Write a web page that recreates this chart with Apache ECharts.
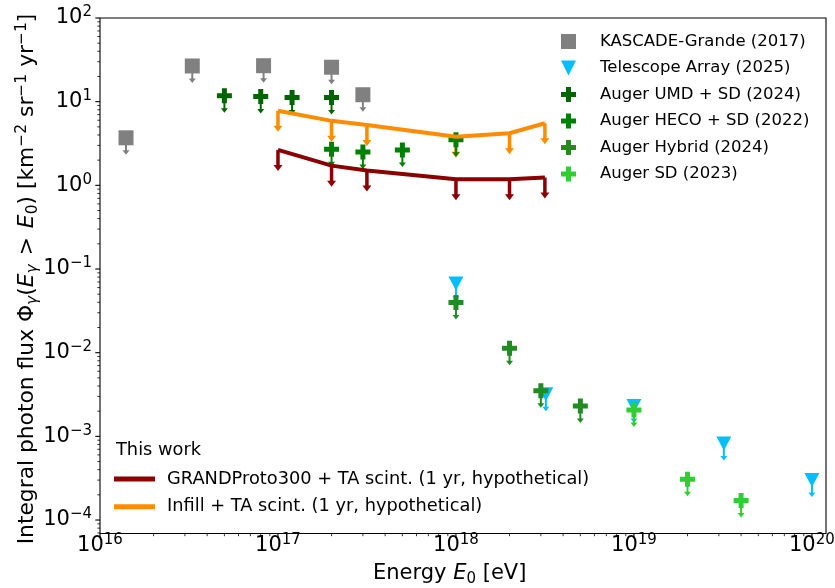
<!DOCTYPE html>
<html>
<head>
<meta charset="utf-8">
<script src="https://cdn.jsdelivr.net/npm/echarts@6/dist/echarts.min.js"></script>
<style>
  html, body { margin: 0; padding: 0; background: #fff; }
  #chart { width: 835px; height: 588px; }
</style>
</head>
<body>
<div id="chart"></div>
<script>
// ---- axis ranges and decade tick labels ----
const X_MIN = 1e16, X_MAX = 1.2e20;
const Y_MIN = 6.9e-5, Y_MAX = 100;
const X_DECADES = [16, 17, 18, 19, 20];
const Y_DECADES = [-4, -3, -2, -1, 0, 1, 2];
const MINOR_STEPS = [2, 3, 4, 5, 6, 7, 8, 9];

// ---- upper limits on the integral photon flux [km^-2 sr^-1 yr^-1] ----
const kascadeE = [1.4e16, 3.3e16, 8.3e16, 2e17, 3e17];
const kascadeFlux = [3.7, 26.7, 26.9, 25.8, 12.1];

const taE = [1e18, 3.2e18, 1e19, 3.2e19, 1e20];
const taFlux = [0.067, 3.19e-3, 2.3e-3, 8.2e-4, 3.0e-4];

const umdE = [5e16, 8e16, 1.2e17, 2e17];
const umdFlux = [11.8, 11.5, 11.2, 11.2];

const hecoE = [2e17, 3e17, 5e17, 1e18];
const hecoFlux = [2.7, 2.5, 2.65, 3.5];

const hybridE = [1e18, 2e18, 3e18, 5e18];
const hybridFlux = [0.0397, 0.0113, 3.5e-3, 2.31e-3];

const sdE = [1e19, 2e19, 4e19];
const sdFlux = [2.07e-3, 3.08e-4, 1.71e-4];

// projected sensitivities
const grandE = [1e17, 2e17, 3.16e17, 1e18, 2e18, 3.16e18];
const grandFlux = [2.65, 1.72, 1.50, 1.18, 1.18, 1.24];
const infillE = [1e17, 2e17, 3.16e17, 1e18, 2e18, 3.16e18];
const infillFlux = [7.8, 5.9, 5.27, 3.82, 4.19, 5.52];

// ---- names ----
const N_KASCADE = 'KASCADE-Grande (2017)';
const N_TA = 'Telescope Array (2025)';
const N_UMD = 'Auger UMD + SD (2024)';
const N_HECO = 'Auger HECO + SD (2022)';
const N_HYBRID = 'Auger Hybrid (2024)';
const N_SD = 'Auger SD (2023)';
const N_GRAND = 'GRANDProto300 + TA scint. (1 yr, hypothetical)';
const N_INFILL = 'Infill + TA scint. (1 yr, hypothetical)';

const FONT = 'DejaVu Sans';
const PLUS = 'path://M1 0H2V1H3V2H2V3H1V2H0V1H1Z';
const TRI_DOWN = 'path://M0 0H2L1 2Z';

function pairs(xs, ys) { return xs.map((x, i) => [x, ys[i]]); }

// power-of-ten tick label
function powLabel(v) {
  const e = Math.log10(v);
  const r = Math.round(e);
  if (Math.abs(e - r) > 1e-6) return '';
  const s = r < 0 ? '\u2212' + (-r) : String(r);
  return '{b|10}{s|' + s + '}';
}
const tickRich = {
  b: { fontFamily: FONT, fontSize: 21, lineHeight: 22, color: '#000' },
  s: { fontFamily: FONT, fontSize: 15, lineHeight: 16, padding: [0, 0, 11, 0], color: '#000' }
};

// tick marks (major at decades, minor at 2..9 x decade), drawn outward
const xTicks = [];
X_DECADES.forEach(n => {
  const d = Math.pow(10, n);
  xTicks.push([d, Y_MIN, 1]);
  MINOR_STEPS.forEach(k => { if (k * d < X_MAX) xTicks.push([k * d, Y_MIN, 0]); });
});
const yTicks = [];
[-5].concat(Y_DECADES).forEach(n => {
  const d = Math.pow(10, n);
  if (d >= Y_MIN && d <= Y_MAX) yTicks.push([X_MIN, d, 1]);
  MINOR_STEPS.forEach(k => { const v = k * d; if (v > Y_MIN && v < Y_MAX) yTicks.push([X_MIN, v, 0]); });
});

function xTickRender(params, api) {
  const p = api.coord([api.value(0), api.value(1)]);
  const major = api.value(2) === 1;
  return { type: 'line', shape: { x1: p[0], y1: p[1], x2: p[0], y2: p[1] + (major ? 4.7 : 2.7) },
           style: { stroke: '#000', lineWidth: major ? 1.1 : 0.8 } };
}
function yTickRender(params, api) {
  const p = api.coord([api.value(0), api.value(1)]);
  const major = api.value(2) === 1;
  return { type: 'line', shape: { x1: p[0], y1: p[1], x2: p[0] - (major ? 4.7 : 2.7), y2: p[1] },
           style: { stroke: '#000', lineWidth: major ? 1.1 : 0.8 } };
}

// downward upper-limit arrow starting at the data point
function arrowRender(color, shaft, headW, headH, lineW) {
  return function (params, api) {
    const p = api.coord([api.value(0), api.value(1)]);
    const y1 = p[1] + shaft;
    return {
      type: 'group',
      children: [
        { type: 'line', shape: { x1: p[0], y1: p[1], x2: p[0], y2: y1 + 1 },
          style: { stroke: color, lineWidth: lineW } },
        { type: 'polygon', shape: { points: [[p[0] - headW / 2, y1], [p[0] + headW / 2, y1], [p[0], y1 + headH]] },
          style: { fill: color } }
      ]
    };
  };
}

function limitSeries(name, xs, ys, color, symbol, size) {
  return [
    { type: 'custom', name: name + ' arrows', data: pairs(xs, ys), clip: false, silent: true,
      renderItem: arrowRender(color, 12.5, 7, 4.5, 2) },
    { type: 'scatter', name: name, data: pairs(xs, ys), symbol: symbol, symbolSize: size,
      itemStyle: { color: color, opacity: 1 }, silent: true }
  ];
}

function workSeries(name, xs, ys, color) {
  return [
    { type: 'line', name: name, data: pairs(xs, ys), symbol: 'none', silent: true,
      lineStyle: { color: color, width: 4, join: 'miter' }, itemStyle: { color: color } },
    { type: 'custom', name: name + ' arrows', data: pairs(xs, ys), clip: false, silent: true,
      renderItem: arrowRender(color, 15, 9, 6, 3.5) }
  ];
}

const series = [].concat(
  workSeries(N_GRAND, grandE, grandFlux, '#8B0000'),
  workSeries(N_INFILL, infillE, infillFlux, '#FF8C00'),
  limitSeries(N_KASCADE, kascadeE, kascadeFlux, '#808080', 'rect', 15),
  limitSeries(N_TA, taE, taFlux, '#00BFFF', TRI_DOWN, [15, 14]),
  limitSeries(N_UMD, umdE, umdFlux, '#006400', PLUS, 15),
  limitSeries(N_HECO, hecoE, hecoFlux, '#008000', PLUS, 15),
  limitSeries(N_HYBRID, hybridE, hybridFlux, '#228B22', PLUS, 15),
  limitSeries(N_SD, sdE, sdFlux, '#32CD32', PLUS, 15),
  [
    { type: 'custom', name: 'x ticks', data: xTicks, clip: false, silent: true, renderItem: xTickRender, z: 10 },
    { type: 'custom', name: 'y ticks', data: yTicks, clip: false, silent: true, renderItem: yTickRender, z: 10 }
  ]
);

const chart = echarts.init(document.getElementById('chart'), null, { renderer: 'canvas' });
chart.setOption({
  animation: false,
  backgroundColor: '#fff',
  grid: { left: 100, top: 18, width: 726, height: 515.5, show: true, borderColor: '#000', borderWidth: 1.1,
          backgroundColor: 'transparent', containLabel: false, outerBoundsMode: 'none' },
  xAxis: {
    type: 'log', logBase: 10, min: X_MIN, max: X_MAX,
    axisLine: { show: false }, axisTick: { show: false }, splitLine: { show: false },
    axisLabel: { formatter: powLabel, rich: tickRich, margin: 1.5, showMinLabel: true, showMaxLabel: true }
  },
  yAxis: {
    type: 'log', logBase: 10, min: Y_MIN, max: Y_MAX,
    axisLine: { show: false }, axisTick: { show: false }, splitLine: { show: false },
    axisLabel: { formatter: powLabel, rich: tickRich, margin: 8, showMinLabel: true, showMaxLabel: true }
  },
  title: {
    text: 'This work', left: 116, top: 441, padding: 0,
    textStyle: { fontFamily: FONT, fontSize: 17.8, fontWeight: 'normal', color: '#000' }
  },
  legend: [
    {
      data: [N_KASCADE, N_TA, N_UMD, N_HECO, N_HYBRID, N_SD],
      orient: 'vertical', left: 561, top: 33, padding: 0,
      itemWidth: 15, itemHeight: 15, itemGap: 9.5, selectedMode: false,
      textStyle: { fontFamily: FONT, fontSize: 16.5, color: '#000', lineHeight: 15, padding: [0, 0, 0, 19] }
    },
    {
      data: [N_GRAND, N_INFILL],
      orient: 'vertical', left: 114, top: 470, padding: 0, icon: 'rect',
      itemWidth: 41, itemHeight: 5, itemGap: 9.7, selectedMode: false,
      textStyle: { fontFamily: FONT, fontSize: 17.8, color: '#000', lineHeight: 18, padding: [0, 0, 0, 7] }
    }
  ],
  graphic: [
    {
      type: 'text', x: 449.7, y: 574, silent: true,
      style: {
        text: 'Energy {i|E}{sub|0} [eV]', fontFamily: FONT, fontSize: 21, fill: '#000',
        align: 'center', verticalAlign: 'middle',
        rich: {
          i: { fontFamily: FONT, fontSize: 21, fontStyle: 'italic', fill: '#000' },
          sub: { fontFamily: FONT, fontSize: 15, padding: [10, 0, 0, 0], fill: '#000' }
        }
      }
    },
    {
      type: 'text', x: 27.5, y: 279, rotation: Math.PI / 2, silent: true,
      style: {
        text: 'Integral photon flux \u03A6{si|\u03B3}({i|E}{si|\u03B3}{op| > }{i|E}{sub|0}) [km{sup|\u22122} sr{sup|\u22121} yr{sup|\u22121}]',
        fontFamily: FONT, fontSize: 21.8, fill: '#000', align: 'center', verticalAlign: 'middle',
        rich: {
          i: { fontFamily: FONT, fontSize: 21.8, fontStyle: 'italic', fill: '#000' },
          op: { fontFamily: FONT, fontSize: 21.8, padding: [0, 2, 0, 2], fill: '#000' },
          si: { fontFamily: FONT, fontSize: 15.5, fontStyle: 'italic', padding: [10, 0, 0, 0], fill: '#000' },
          sub: { fontFamily: FONT, fontSize: 15.5, padding: [10, 0, 0, 0], fill: '#000' },
          sup: { fontFamily: FONT, fontSize: 15.5, padding: [0, 0, 11, 0], fill: '#000' }
        }
      }
    }
  ],
  series: series
});
</script>
</body>
</html>
